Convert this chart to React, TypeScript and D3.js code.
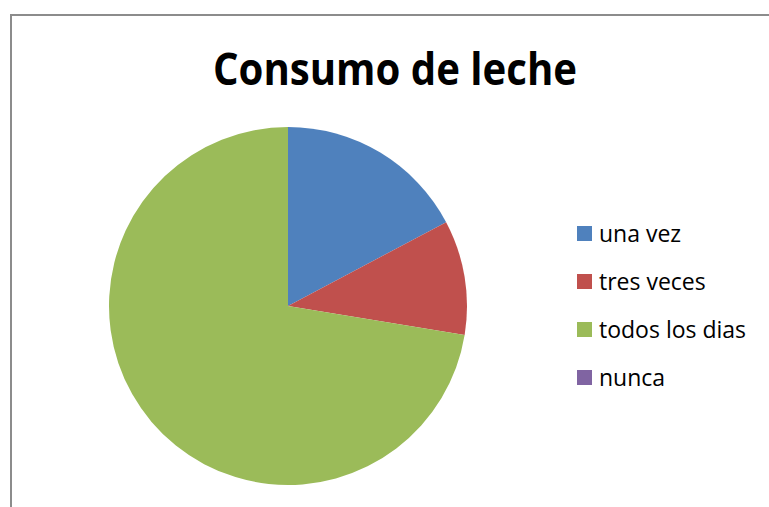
import React from "react";
import * as d3 from "d3";

const categories = ["una vez", "tres veces", "todos los dias", "nunca"];
const values = [5, 3, 21, 0];
const colors = ["#4F81BD", "#C0504D", "#9BBB59", "#8064A2"];
const title = "Consumo de leche";

export default function App() {
  const W = 769, H = 507;
  const cx = 288, cy = 306, r = 179;
  const pie = d3.pie<number>().sort(null).value((d) => d)(values);
  const arc = d3.arc<d3.PieArcDatum<number>>().innerRadius(0).outerRadius(r);
  const legendY = d3.scaleBand<string>().domain(categories).range([209.5, 401.5]);
  return (
    <svg width={W} height={H} style={{ position: "absolute", left: 0, top: 0 }}>
      <rect x={0} y={0} width={W} height={H} fill="#fff" />
      <rect x={11} y={15} width={W + 20} height={H + 20} fill="#fff" stroke="#8c8c8c" strokeWidth={2} />
      <text x={213} y={85} textLength={364} lengthAdjust="spacingAndGlyphs" fontFamily="'Open Sans'" fontWeight="bold" fontSize={44} fill="#000">
        {title}
      </text>
      <g transform={`translate(${cx},${cy})`}>
        {pie.map((p, i) => (
          <path key={categories[i]} d={arc(p) || ""} fill={colors[i]} />
        ))}
      </g>
      {categories.map((c, i) => {
        const y = (legendY(c) as number) + legendY.bandwidth() / 2;
        return (
          <g key={c}>
            <rect x={577} y={y - 7.5} width={15} height={15} fill={colors[i]} />
            <text x={599} y={y + 8.5} fontFamily="'Open Sans'" fontSize={23} fill="#000">
              {c}
            </text>
          </g>
        );
      })}
    </svg>
  );
}
